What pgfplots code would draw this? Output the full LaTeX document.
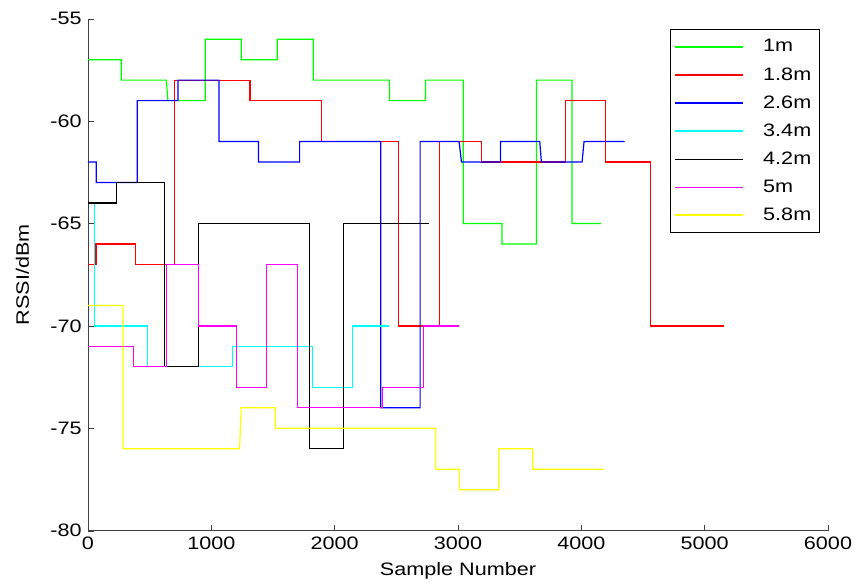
\documentclass[border=0pt]{standalone}
\usepackage{fontspec}
\setmainfont{Liberation Sans}[FakeStretch=1.2]
\usepackage{pgfplots}
\pgfplotsset{compat=1.18}
\definecolor{mgreen}{rgb}{0,1,0}
\definecolor{mred}{rgb}{1,0,0}
\definecolor{mblue}{rgb}{0,0,1}
\definecolor{mcyan}{rgb}{0,1,1}
\definecolor{mmag}{rgb}{1,0,1}
\definecolor{myel}{rgb}{1,1,0}
\begin{document}
\fontsize{9}{11}\selectfont
\begin{tikzpicture}
\useasboundingbox (-44pt,-27.5pt) rectangle (383.5pt,265.35pt);
\begin{axis}[
  at={(0,0)}, anchor=south west,
  scale only axis, width=370pt, height=256pt,
  xmin=0, xmax=6000, ymin=-80, ymax=-55,
  xtick={0,1000,...,6000}, ytick={-80,-75,...,-55},
  axis x line*=bottom, axis y line*=left,
  axis line style={black!75, -},
  tick align=inside, major tick length=3pt,
  tick style={black!75},
  scaled x ticks=false,
  /pgf/number format/assume math mode=true,
  /pgf/number format/set thousands separator={},
  tick label style={font=\fontsize{9}{11}\selectfont},
  label style={font=\fontsize{9}{11}\selectfont},
  xlabel={Sample Number},
  ylabel={RSSI/dBm},
  ylabel style={yshift=4.5pt},
  every axis plot/.append style={line width=0.6pt},
  legend style={at={(0.989,0.98)}, anchor=north east, draw=black, line width=0.6pt,
    font=\fontsize{9}{11}\selectfont, row sep=2.4pt, inner xsep=2pt, inner ysep=3pt,
    /tikz/every odd column/.append style={column sep=7.5pt}},
  legend cell align=left,
  legend image code/.code={\draw[#1, line width=0.75pt] (0pt,0pt) -- (34pt,0pt);},
]
\addplot[mgreen] coordinates {(0,-57) (270,-57) (270,-58) (635,-58) (648,-59) (951,-59) (951,-56) (1243,-56) (1243,-57) (1534,-57) (1534,-56) (1826,-56) (1826,-58) (2445,-58) (2445,-59) (2737,-59) (2737,-58) (3042,-58) (3042,-65) (3357,-65) (3357,-66) (3636,-66) (3636,-58) (3925,-58) (3925,-65) (4160,-65)};
\addlegendentry{1m}
\addplot[mred] coordinates {(0,-67) (65,-67) (65,-66) (383,-66) (383,-67) (702,-67) (702,-58) (1313,-58) (1313,-59) (1891,-59) (1891,-61) (2515,-61) (2515,-70) (2847,-70) (2847,-61) (3190,-61) (3190,-62) (3871,-62) (3871,-59) (4198,-59) (4198,-62) (4560,-62) (4560,-70) (5154,-70)};
\addlegendentry{1.8m}
\addplot[mblue] coordinates {(0,-62) (67,-62) (67,-63) (400,-63) (400,-59) (729,-59) (729,-58) (1062,-58) (1062,-61) (1383,-61) (1383,-62) (1716,-62) (1716,-61) (2374,-61) (2374,-74) (2693,-74) (2693,-61) (3009,-61) (3028,-62) (3344,-62) (3344,-61) (3663,-61) (3676,-62) (4006,-62) (4022,-61) (4352,-61)};
\addlegendentry{2.6m}
\addplot[mcyan] coordinates {(0,-64) (50,-64) (50,-70) (481,-70) (481,-72) (1169,-72) (1169,-71) (1823,-71) (1823,-73) (2142,-73) (2142,-70) (2442,-70)};
\addlegendentry{3.4m}
\addplot[black] coordinates {(0,-64) (230,-64) (230,-63) (621,-63) (621,-72) (897,-72) (897,-65) (1796,-65) (1796,-76) (2069,-76) (2069,-65) (2761,-65)};
\addlegendentry{4.2m}
\addplot[mmag] coordinates {(0,-71) (370,-71) (370,-72) (635,-72) (635,-67) (897,-67) (897,-70) (1202,-70) (1202,-73) (1450,-73) (1450,-67) (1696,-67) (1696,-74) (2385,-74) (2385,-73) (2720,-73) (2720,-70) (3009,-70)};
\addlegendentry{5m}
\addplot[myel] coordinates {(0,-69) (284,-69) (284,-76) (1229,-76) (1242,-74) (1518,-74) (1518,-75) (2820,-75) (2820,-77) (3012,-77) (3012,-78) (3331,-78) (3331,-76) (3606,-76) (3606,-77) (4184,-77)};
\addlegendentry{5.8m}
\end{axis}
\end{tikzpicture}
\end{document}
